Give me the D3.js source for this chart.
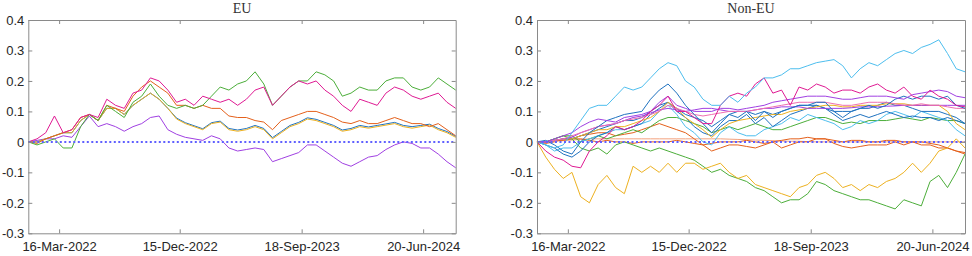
<!DOCTYPE html>
<html>
<head>
<meta charset="utf-8">
<script src="https://cdn.jsdelivr.net/npm/d3@7"></script>
<style>
  body { margin: 0; background: #fff; }
  svg { display: block; }
</style>
</head>
<body>
<svg id="chart" width="972" height="256"></svg>
<script>
// time span and tick labels shared by both panels
const startDate = new Date(2022, 0, 5);
const endDate = new Date(2024, 8, 2);
const tickDates = [new Date(2022, 2, 16), new Date(2022, 11, 15), new Date(2023, 8, 18), new Date(2024, 5, 20)];
const yTicks = [-0.3, -0.2, -0.1, 0, 0.1, 0.2, 0.3, 0.4];
const yTickLabels = ['-0.3', '-0.2', '-0.1', '0', '0.1', '0.2', '0.3', '0.4'];

// EU series (50 evenly spaced samples)
const euMagenta = [0, 0.01, 0.03, 0.085, 0.03, 0.04, 0.08, 0.09, 0.08, 0.14, 0.12, 0.11, 0.16, 0.17, 0.21, 0.2, 0.17, 0.13, 0.14, 0.12, 0.15, 0.14, 0.13, 0.14, 0.12, 0.14, 0.17, 0.18, 0.12, 0.15, 0.18, 0.2, 0.19, 0.2, 0.17, 0.15, 0.12, 0.1, 0.14, 0.13, 0.12, 0.16, 0.18, 0.17, 0.15, 0.14, 0.15, 0.16, 0.13, 0.11];
const euGreen = [0, -0.01, 0, 0.01, -0.02, -0.02, 0.05, 0.09, 0.07, 0.12, 0.1, 0.08, 0.13, 0.15, 0.19, 0.15, 0.12, 0.11, 0.12, 0.11, 0.12, 0.15, 0.18, 0.17, 0.19, 0.2, 0.23, 0.19, 0.12, 0.15, 0.18, 0.2, 0.2, 0.23, 0.22, 0.2, 0.15, 0.16, 0.18, 0.17, 0.17, 0.2, 0.21, 0.21, 0.18, 0.17, 0.18, 0.21, 0.19, 0.17];
const euOrange = [0, -0.005, 0.01, 0.02, 0.03, 0.04, 0.08, 0.09, 0.07, 0.12, 0.11, 0.1, 0.15, 0.18, 0.2, 0.18, 0.16, 0.12, 0.12, 0.11, 0.12, 0.11, 0.11, 0.085, 0.08, 0.08, 0.07, 0.065, 0.04, 0.07, 0.08, 0.09, 0.1, 0.1, 0.09, 0.08, 0.065, 0.06, 0.07, 0.06, 0.06, 0.07, 0.08, 0.07, 0.06, 0.06, 0.05, 0.06, 0.04, 0.02];
const euBlue = [0, 0, 0.01, 0.02, 0.03, 0.03, 0.07, 0.09, 0.07, 0.11, 0.11, 0.09, 0.12, 0.14, 0.16, 0.14, 0.11, 0.078, 0.063, 0.053, 0.043, 0.063, 0.068, 0.044, 0.039, 0.044, 0.054, 0.044, 0.014, 0.034, 0.054, 0.064, 0.079, 0.074, 0.064, 0.054, 0.039, 0.044, 0.054, 0.049, 0.054, 0.059, 0.064, 0.054, 0.05, 0.054, 0.058, 0.044, 0.034, 0.018];
const euYellow = [0, 0, 0.01, 0.02, 0.03, 0.03, 0.07, 0.09, 0.07, 0.11, 0.11, 0.09, 0.12, 0.14, 0.16, 0.14, 0.11, 0.075, 0.06, 0.05, 0.04, 0.06, 0.065, 0.04, 0.035, 0.04, 0.05, 0.04, 0.01, 0.03, 0.05, 0.06, 0.075, 0.07, 0.06, 0.05, 0.035, 0.04, 0.05, 0.045, 0.05, 0.055, 0.06, 0.05, 0.045, 0.05, 0.055, 0.04, 0.03, 0.015];
const euPurple = [0, 0.005, 0.01, 0.01, 0.02, 0.015, 0.05, 0.085, 0.05, 0.06, 0.05, 0.035, 0.05, 0.06, 0.08, 0.085, 0.04, 0.025, 0.015, 0.01, 0.005, 0.02, 0.01, -0.02, -0.03, -0.025, -0.02, -0.025, -0.065, -0.055, -0.045, -0.035, -0.01, -0.01, -0.03, -0.05, -0.07, -0.08, -0.065, -0.05, -0.045, -0.025, -0.01, 0, -0.005, -0.02, -0.02, -0.04, -0.065, -0.085];

// Non-EU series
const neCyanTop = [0, -0.01, -0.02, -0.01, 0.03, 0.07, 0.11, 0.12, 0.12, 0.15, 0.18, 0.17, 0.18, 0.21, 0.24, 0.26, 0.25, 0.2, 0.18, 0.14, 0.12, 0.12, 0.15, 0.13, 0.16, 0.18, 0.21, 0.21, 0.22, 0.24, 0.24, 0.25, 0.26, 0.265, 0.27, 0.25, 0.21, 0.24, 0.26, 0.25, 0.27, 0.29, 0.3, 0.29, 0.31, 0.32, 0.335, 0.29, 0.24, 0.23];
const neCyanLow = [0, -0.01, -0.03, -0.02, -0.02, 0, 0.01, 0.02, 0.03, 0.04, 0.04, 0.05, 0.06, 0.07, 0.1, 0.12, 0.09, 0.05, 0.03, 0, -0.01, 0.03, 0.05, 0.03, 0.02, 0.02, 0.04, 0.05, 0.06, 0.08, 0.07, 0.09, 0.08, 0.07, 0.06, 0.04, 0.05, 0.07, 0.06, 0.07, 0.09, 0.1, 0.09, 0.08, 0.1, 0.09, 0.08, 0.07, 0.04, 0.02];
const neMagenta = [0, -0.03, -0.05, -0.06, -0.08, -0.085, -0.03, 0, 0.02, 0.05, 0.04, 0.05, 0.07, 0.1, 0.12, 0.15, 0.1, 0.1, 0.08, 0.06, 0.06, 0.12, 0.15, 0.16, 0.15, 0.19, 0.21, 0.16, 0.17, 0.12, 0.18, 0.17, 0.19, 0.18, 0.16, 0.17, 0.17, 0.16, 0.18, 0.19, 0.17, 0.16, 0.18, 0.15, 0.14, 0.17, 0.15, 0.14, 0.12, 0.115];
const nePink = [0, 0, 0.005, 0.01, 0.02, 0.03, 0.04, 0.05, 0.055, 0.06, 0.07, 0.075, 0.08, 0.09, 0.1, 0.12, 0.11, 0.1, 0.09, 0.085, 0.09, 0.095, 0.1, 0.1, 0.1, 0.105, 0.11, 0.115, 0.12, 0.125, 0.13, 0.13, 0.13, 0.13, 0.125, 0.12, 0.12, 0.125, 0.13, 0.13, 0.13, 0.125, 0.12, 0.12, 0.125, 0.12, 0.12, 0.115, 0.11, 0.11];
const nePurple1 = [0, 0, 0.01, 0.02, 0.03, 0.05, 0.065, 0.075, 0.07, 0.065, 0.08, 0.085, 0.09, 0.1, 0.13, 0.15, 0.12, 0.11, 0.1, 0.1, 0.1, 0.11, 0.11, 0.105, 0.11, 0.115, 0.12, 0.13, 0.135, 0.14, 0.145, 0.15, 0.15, 0.15, 0.145, 0.14, 0.14, 0.145, 0.15, 0.15, 0.15, 0.145, 0.14, 0.155, 0.16, 0.165, 0.17, 0.165, 0.15, 0.145];
const nePurple2 = [0, 0, 0.005, 0.01, 0.015, 0.03, 0.04, 0.05, 0.055, 0.06, 0.07, 0.08, 0.085, 0.095, 0.105, 0.11, 0.105, 0.1, 0.105, 0.11, 0.11, 0.105, 0.1, 0.1, 0.1, 0.105, 0.11, 0.11, 0.115, 0.115, 0.115, 0.11, 0.11, 0.11, 0.11, 0.11, 0.112, 0.115, 0.115, 0.115, 0.117, 0.118, 0.12, 0.12, 0.12, 0.12, 0.12, 0.12, 0.12, 0.12];
const neBlue1 = [0, 0.005, -0.01, -0.03, -0.04, 0, 0.03, 0.05, 0.07, 0.08, 0.09, 0.095, 0.1, 0.14, 0.17, 0.19, 0.16, 0.12, 0.09, 0.06, 0.03, 0.06, 0.09, 0.08, 0.1, 0.07, 0.1, 0.08, 0.1, 0.11, 0.12, 0.12, 0.13, 0.13, 0.1, 0.08, 0.1, 0.11, 0.12, 0.11, 0.12, 0.14, 0.15, 0.14, 0.15, 0.15, 0.14, 0.15, 0.12, 0.11];
const neBlue2 = [0, -0.01, -0.02, -0.04, -0.05, -0.03, 0, 0.02, 0.03, 0.05, 0.04, 0.05, 0.06, 0.09, 0.11, 0.13, 0.1, 0.08, 0.05, 0.03, 0.02, 0.05, 0.07, 0.07, 0.09, 0.06, 0.08, 0.05, 0.07, 0.09, 0.1, 0.11, 0.12, 0.11, 0.09, 0.07, 0.08, 0.09, 0.08, 0.09, 0.1, 0.09, 0.08, 0.085, 0.08, 0.08, 0.07, 0.08, 0.07, 0.06];
const neBlue3 = [0, 0, 0.005, 0.01, 0.01, 0.02, 0.03, 0.04, 0.05, 0.06, 0.07, 0.07, 0.08, 0.1, 0.12, 0.13, 0.11, 0.09, 0.08, 0.07, 0.05, 0.07, 0.09, 0.1, 0.1, 0.09, 0.1, 0.09, 0.1, 0.11, 0.12, 0.12, 0.12, 0.11, 0.1, 0.1, 0.1, 0.11, 0.11, 0.12, 0.13, 0.12, 0.12, 0.11, 0.1, 0.1, 0.1, 0.09, 0.08, 0.06];
const neYellowLow = [0, -0.05, -0.09, -0.12, -0.1, -0.18, -0.2, -0.14, -0.11, -0.15, -0.17, -0.08, -0.1, -0.08, -0.1, -0.07, -0.1, -0.07, -0.07, -0.09, -0.08, -0.07, -0.1, -0.12, -0.11, -0.14, -0.15, -0.16, -0.17, -0.18, -0.15, -0.14, -0.11, -0.1, -0.12, -0.15, -0.14, -0.16, -0.14, -0.15, -0.13, -0.12, -0.1, -0.07, -0.1, -0.07, -0.03, -0.02, 0.01, -0.02];
const neYellowHigh = [0, 0, 0.005, 0.01, 0.01, 0.02, 0.03, 0.04, 0.04, 0.05, 0.05, 0.06, 0.07, 0.08, 0.1, 0.13, 0.11, 0.08, 0.06, 0.04, 0.015, 0.04, 0.06, 0.07, 0.075, 0.08, 0.085, 0.09, 0.09, 0.1, 0.105, 0.11, 0.115, 0.12, 0.12, 0.115, 0.115, 0.12, 0.12, 0.12, 0.125, 0.125, 0.125, 0.12, 0.12, 0.12, 0.12, 0.1, 0.06, 0.04];
const neGreenLow = [0, 0, 0.01, 0.02, 0.01, -0.02, -0.03, -0.02, -0.04, -0.01, 0, -0.01, -0.02, -0.03, -0.02, -0.03, -0.04, -0.05, -0.06, -0.08, -0.1, -0.09, -0.11, -0.12, -0.13, -0.15, -0.16, -0.18, -0.2, -0.19, -0.19, -0.17, -0.13, -0.14, -0.16, -0.17, -0.18, -0.19, -0.19, -0.2, -0.21, -0.22, -0.19, -0.2, -0.21, -0.13, -0.11, -0.15, -0.1, -0.04];
const neGreenHigh = [0, 0, 0.01, 0.02, 0.02, 0, 0.01, 0.02, 0.01, 0.02, 0.03, 0.04, 0.03, 0.05, 0.07, 0.08, 0.08, 0.07, 0.06, 0.05, 0.03, 0.04, 0.05, 0.04, 0.05, 0.06, 0.05, 0.04, 0.04, 0.05, 0.06, 0.07, 0.08, 0.08, 0.07, 0.06, 0.065, 0.06, 0.07, 0.07, 0.07, 0.075, 0.08, 0.075, 0.07, 0.08, 0.075, 0.07, 0.07, 0.06];
const neOrange1 = [0, -0.005, 0, 0.01, 0.01, 0.02, 0.025, 0.03, 0.03, 0.02, 0.025, 0.03, 0.04, 0.05, 0.06, 0.05, 0.04, 0.03, 0.01, -0.01, -0.03, -0.02, -0.01, -0.01, -0.015, -0.02, -0.01, 0, -0.02, -0.01, 0, 0, 0.01, 0.01, -0.005, -0.015, -0.02, -0.015, -0.01, -0.01, -0.01, 0, -0.01, 0, -0.01, -0.01, -0.02, -0.02, -0.03, -0.035];
const neOrange2 = [0, 0, 0.005, 0.005, 0.01, 0.01, 0.005, 0, 0.005, 0, 0, -0.005, 0, 0, 0, 0, 0.005, 0, -0.005, -0.01, -0.005, 0, 0, 0, 0.005, 0, -0.005, 0, 0.005, 0.01, 0.01, 0.015, 0.01, 0.01, 0.005, 0, 0.005, 0.005, 0, 0, 0.005, 0.005, 0, 0, 0, -0.005, -0.01, -0.02, -0.03, -0.04];
const neSalmon = [0, 0, 0.002, 0.004, 0.006, 0.008, 0.01, 0.01, 0.01, 0.01, 0.01, 0.01, 0.01, 0.01, 0.01, 0.01, 0.01, 0.01, 0.01, 0.01, 0.01, 0.01, 0.009, 0.008, 0.007, 0.006, 0.005, 0.004, 0.003, 0.002, 0.002, 0.001, 0, 0, 0, 0, 0, 0, 0, 0, 0, 0, 0, 0, 0, 0, 0, 0, 0, 0];

const C = {
  blue: '#1f72c0', orange: '#e4601b', yellow: '#edb120', purple: '#a040e2',
  green: '#4cae3a', cyan: '#4dbeee', magenta: '#df1a93', pink: '#ef6fb0', salmon: '#f3a27e'
};

const euSeries = [
  { v: euPurple, c: C.purple }, { v: euBlue, c: C.blue }, { v: euYellow, c: C.yellow },
  { v: euOrange, c: C.orange }, { v: euGreen, c: C.green }, { v: euMagenta, c: C.magenta }
];
const neSeries = [
  { v: neSalmon, c: C.salmon }, { v: neOrange2, c: C.orange }, { v: neOrange1, c: C.orange },
  { v: neGreenLow, c: C.green }, { v: neYellowLow, c: C.yellow }, { v: neGreenHigh, c: C.green },
  { v: neCyanLow, c: C.cyan }, { v: neBlue2, c: C.blue }, { v: neBlue3, c: C.blue },
  { v: neYellowHigh, c: C.yellow }, { v: nePurple2, c: C.purple }, { v: nePink, c: C.pink },
  { v: neBlue1, c: C.blue }, { v: nePurple1, c: C.purple }, { v: neMagenta, c: C.magenta },
  { v: neCyanTop, c: C.cyan }
];

const svg = d3.select('#chart');
const plotTop = 20, plotBottom = 233.3;
const fmtDate = d3.timeFormat('%d-%b-%Y');

function sampleDate(i, n) {
  return new Date(+startDate + (endDate - startDate) * i / (n - 1));
}

function drawPanel(left, right, title, series) {
  const x = d3.scaleTime().domain([startDate, endDate]).range([left, right]);
  const y = d3.scaleLinear().domain([-0.3, 0.4]).range([plotBottom, plotTop]);
  const g = svg.append('g');

  const line = d3.line()
    .x((d, i, arr) => x(sampleDate(i, arr.length)))
    .y(d => y(d));

  series.forEach(s => {
    g.append('path')
      .datum(s.v)
      .attr('d', line)
      .attr('fill', 'none')
      .attr('stroke', s.c)
      .attr('stroke-width', 1)
      .attr('stroke-linejoin', 'round');
  });

  // zero reference line
  g.append('line')
    .attr('x1', left).attr('x2', right)
    .attr('y1', y(0)).attr('y2', y(0))
    .attr('stroke', '#6060ff')
    .attr('stroke-width', 2)
    .attr('stroke-dasharray', '2,2.5');

  // box with inward ticks on all four sides
  const axisStyle = sel => {
    sel.select('.domain').attr('stroke', '#8a8a8a');
    sel.selectAll('.tick line').attr('stroke', '#8a8a8a');
    sel.selectAll('text').attr('fill', '#262626')
      .style('font-family', '"Liberation Sans", Arial, sans-serif').style('font-size', '13px');
  };
  g.append('g').attr('transform', `translate(0,${plotBottom})`)
    .call(d3.axisBottom(x).tickValues(tickDates).tickFormat(fmtDate).tickSizeInner(-4).tickSizeOuter(0).tickPadding(8))
    .call(axisStyle);
  g.append('g').attr('transform', `translate(0,${plotTop})`)
    .call(d3.axisTop(x).tickValues(tickDates).tickFormat('').tickSizeInner(-4).tickSizeOuter(0))
    .call(axisStyle);
  g.append('g').attr('transform', `translate(${left},0)`)
    .call(d3.axisLeft(y).tickValues(yTicks).tickFormat((d, i) => yTickLabels[i]).tickSizeInner(-4).tickSizeOuter(0).tickPadding(4))
    .call(axisStyle);
  g.append('g').attr('transform', `translate(${right},0)`)
    .call(d3.axisRight(y).tickValues(yTicks).tickFormat('').tickSizeInner(-4).tickSizeOuter(0))
    .call(axisStyle);

  g.append('text')
    .attr('x', (left + right) / 2).attr('y', 13)
    .attr('text-anchor', 'middle')
    .style('font-family', '"Liberation Serif", "DejaVu Serif", serif')
    .style('font-size', '14px')
    .attr('fill', '#333')
    .text(title);
}

drawPanel(28.3, 455.7, 'EU', euSeries);
drawPanel(537, 965, 'Non-EU', neSeries);
</script>
</body>
</html>
